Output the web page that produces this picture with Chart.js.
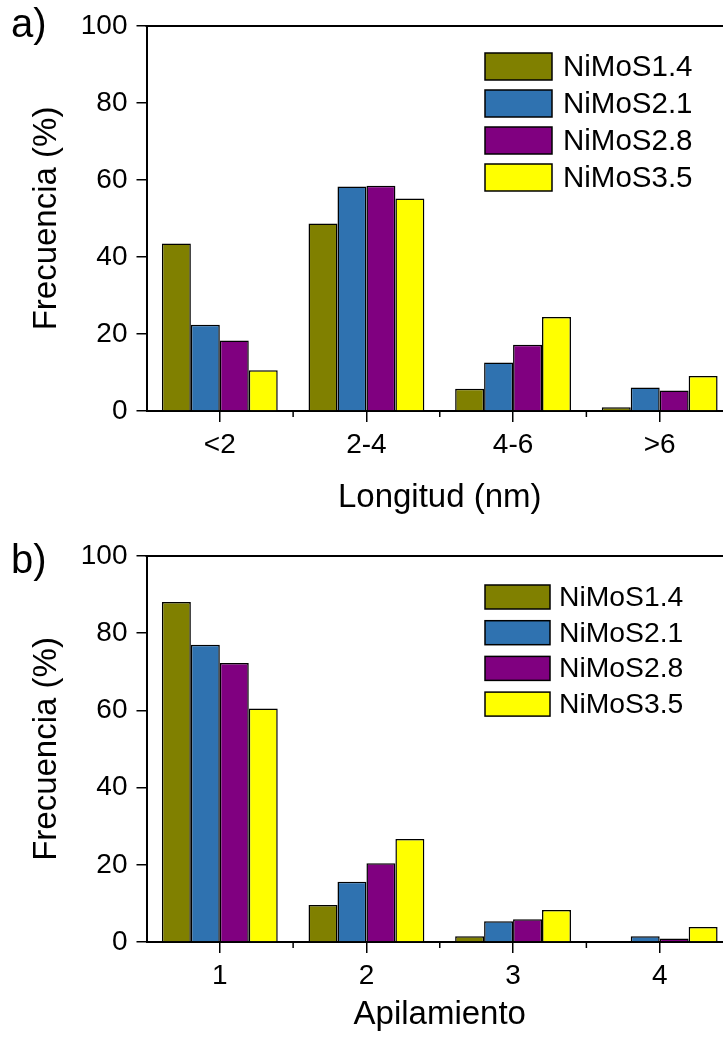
<!DOCTYPE html>
<html>
<head>
<meta charset="utf-8">
<script src="https://cdn.jsdelivr.net/npm/chart.js@4.4.1/dist/chart.umd.min.js"></script>
<style>
  html, body { margin: 0; padding: 0; background: #fff; overflow: hidden; }
  body { width: 723px; height: 1045px; position: relative; }
  .panel { position: absolute; left: 0; width: 760px; }
  .tag { position: absolute; left: 11px; font: 40px/1 "Liberation Sans", Arial, sans-serif; color: #000; }
</style>
</head>
<body>
<div class="panel" style="top:0;height:525px"><canvas id="chartA"></canvas></div>
<div class="panel" style="top:530px;height:515px"><canvas id="chartB"></canvas></div>
<div class="tag" style="top:3px">a)</div>
<div class="tag" style="top:539px">b)</div>
<script>
// series names and colours
var seriesNames = ["NiMoS1.4", "NiMoS2.1", "NiMoS2.8", "NiMoS3.5"];
var seriesColors = ["#808000", "#2f72b0", "#800080", "#ffff00"];

// panel a) - length distribution
var lengthCats = ["<2", "2-4", "4-6", ">6"];
var lenS14 = [43.5, 48.7, 5.8, 1.0];
var lenS21 = [22.4, 58.3, 12.6, 6.1];
var lenS28 = [18.3, 58.5, 17.2, 5.3];
var lenS35 = [10.6, 55.2, 24.4, 9.1];

// panel b) - stacking distribution
var stackCats = ["1", "2", "3", "4"];
var stkS14 = [88.1, 9.6, 1.5, 0.2];
var stkS21 = [77.0, 15.6, 5.4, 1.5];
var stkS28 = [72.3, 20.4, 5.9, 0.9];
var stkS35 = [60.5, 26.7, 8.3, 3.9];

var yTicks = [0, 20, 40, 60, 80, 100];

var FONT = '"Liberation Sans", Arial, sans-serif';

// top frame line + minor x ticks between categories + legend in the plot
var extras = {
    id: 'extras',
    afterDraw: function(chart, args, opts) {
        var ctx = chart.ctx, a = chart.chartArea, x = chart.scales.x;
        ctx.save();
        ctx.strokeStyle = '#000';
        ctx.lineWidth = 2;
        ctx.beginPath();
        ctx.moveTo(a.left - 1, a.top);
        ctx.lineTo(a.right, a.top);
        ctx.stroke();
        ctx.lineWidth = 1.5;
        var n = chart.data.labels.length;
        for (var i = 0; i < n - 1; i++) {
            var px = (x.getPixelForValue(i) + x.getPixelForValue(i + 1)) / 2;
            ctx.beginPath();
            ctx.moveTo(px, a.bottom);
            ctx.lineTo(px, a.bottom + 6);
            ctx.stroke();
        }
        // legend
        ctx.font = opts.fontSize + 'px ' + FONT;
        ctx.textBaseline = 'middle';
        ctx.textAlign = 'left';
        chart.data.datasets.forEach(function(ds, i) {
            var bx = a.left + opts.dx, by = a.top + opts.dy + i * opts.step;
            ctx.fillStyle = ds.backgroundColor;
            ctx.fillRect(bx, by, opts.w, opts.h);
            ctx.lineWidth = 1.5;
            ctx.strokeStyle = '#000';
            ctx.strokeRect(bx, by, opts.w, opts.h);
            ctx.fillStyle = '#000';
            ctx.fillText(ds.label, bx + opts.w + opts.gap, by + opts.h / 2 + 1);
        });
        ctx.restore();
    }
};

function makeChart(id, cats, vals, xTitle, xHeight, titlePad, legend) {
    var datasets = vals.map(function(v, i) {
        return {
            label: seriesNames[i],
            data: v,
            backgroundColor: seriesColors[i],
            borderColor: '#000',
            borderWidth: 1.5,
            categoryPercentage: 0.79,
            barPercentage: 1.0
        };
    });
    return new Chart(document.getElementById(id), {
        type: 'bar',
        data: { labels: cats, datasets: datasets },
        plugins: [extras],
        options: {
            responsive: true,
            maintainAspectRatio: false,
            animation: false,
            layout: { padding: { top: 26, right: 27, left: 0, bottom: 0 } },
            plugins: {
                legend: { display: false },
                tooltip: { enabled: false },
                extras: legend
            },
            scales: {
                x: {
                    grid: { display: true, offset: false, drawOnChartArea: false, drawTicks: true,
                            tickLength: 11, color: '#000', lineWidth: 1.5 },
                    border: { color: '#000', width: 2 },
                    ticks: { color: '#000', font: { family: FONT, size: 28 }, padding: 6, maxRotation: 0 },
                    title: { display: true, text: xTitle, color: '#000',
                             font: { family: FONT, size: 33 }, padding: { top: 0, bottom: titlePad } },
                    afterFit: function(s) { s.height = xHeight; }
                },
                y: {
                    min: 0, max: 100,
                    afterBuildTicks: function(s) { s.ticks = yTicks.map(function(v) { return { value: v }; }); },
                    grid: { display: true, drawOnChartArea: false, drawTicks: true,
                            tickLength: 10, color: '#000', lineWidth: 1.5 },
                    border: { color: '#000', width: 2 },
                    ticks: { color: '#000', font: { family: FONT, size: 28 }, padding: 9 },
                    title: { display: true, text: 'Frecuencia (%)', color: '#000',
                             font: { family: FONT, size: 33 }, padding: { top: 27, bottom: 0 } },
                    afterFit: function(s) { s.width = 146.5; }
                }
            }
        }
    });
}

makeChart('chartA', lengthCats, [lenS14, lenS21, lenS28, lenS35], 'Longitud (nm)', 114, 7,
    { dx: 338.5, dy: 27, w: 67, h: 27, step: 37, gap: 11, fontSize: 29.5 });
makeChart('chartB', stackCats, [stkS14, stkS21, stkS28, stkS35], 'Apilamiento', 103, 10,
    { dx: 338.5, dy: 29, w: 65, h: 24, step: 35.7, gap: 9, fontSize: 28.3 });
</script>
</body>
</html>
